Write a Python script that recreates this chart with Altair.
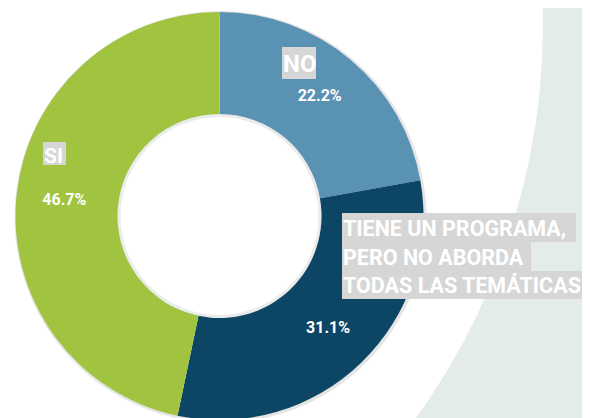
import altair as alt
import pandas as pd

# ---- data ----
categories = ["NO", "TIENE UN PROGRAMA, PERO NO ABORDA TODAS LAS TEMÁTICAS", "SI"]
values = [22.2, 31.1, 46.7]
colors = ["#5A92B3", "#0D4664", "#A0C440"]
order = [1, 2, 3]
pct_labels = [f"{v:.1f}%" for v in values]

df = pd.DataFrame({"cat": categories, "value": values, "ord": order, "pct": pct_labels})

W, H = 574, 410
CX, CY = 211.5, 208
R_OUT, R_IN = 204, 102

color_scale = alt.Scale(domain=categories, range=colors)

one = pd.DataFrame({"a": [0]})

# background decoration: white disk over light gray page
bg_disk = alt.Chart(one).mark_arc(color="white", radius=675).encode(
    theta=alt.value(0), theta2=alt.value(6.2832),
    x=alt.value(-140), y=alt.value(16)
)

base = alt.Chart(df).encode(
    theta=alt.Theta("value:Q", stack=True),
    order=alt.Order("ord:Q"),
    x=alt.value(CX), y=alt.value(CY),
)

shadow = alt.Chart(one).mark_arc(color="#000000", opacity=0.10, radius=206, radius2=R_OUT - 2).encode(
    theta=alt.value(0), theta2=alt.value(6.2832), x=alt.value(CX + 1), y=alt.value(CY + 1)
)

donut = base.mark_arc(radius=R_OUT, radius2=R_IN).encode(
    color=alt.Color("cat:N", scale=color_scale, legend=None)
)

inner_shadow = alt.Chart(one).mark_arc(color="#000000", opacity=0.08, radius=R_IN, radius2=R_IN - 3).encode(
    theta=alt.value(0), theta2=alt.value(6.2832), x=alt.value(CX), y=alt.value(CY)
)

pct = base.mark_text(radius=156, font="Roboto", fontWeight="bold", fontSize=16, color="white",
                     align="center", baseline="middle").encode(text="pct:N")

BOX = "#D6D6D6"
FONT = "Roboto"


def box(x1, x2, y1, y2):
    return alt.Chart(one).mark_rect(color=BOX).encode(
        x=alt.value(x1 - 8), x2=alt.value(x2 - 8), y=alt.value(y1 - 8), y2=alt.value(y2 - 8)
    )


def label(txt, x, y, size):
    return alt.Chart(one).mark_text(font=FONT, fontWeight="bold", fontSize=size, color="white",
                                    align="left", baseline="alphabetic").encode(
        x=alt.value(x - 8), y=alt.value(y - 8), text=alt.value(txt)
    )


tiene_lines = ["TIENE UN PROGRAMA,", "PERO NO ABORDA", "TODAS LAS TEMÁTICAS"]

layers = [bg_disk, shadow, donut, inner_shadow, pct,
          box(282, 316, 47, 79), label(categories[0], 283, 72, 24),
          box(43, 66, 142, 165), label(categories[2], 44, 163, 21),
          box(342, 576, 213, 242), box(342, 531, 242, 271), box(342, 582, 271, 299),
          label(tiene_lines[0], 343, 236, 21.5),
          label(tiene_lines[1], 343, 265, 21.5),
          label(tiene_lines[2], 343, 293, 21.5)]

chart = alt.layer(*layers).properties(
    width=W, height=H,
    autosize=alt.AutoSizeParams(type="none"),
    padding=0,
    background="#E4EBEB",
).configure_view(stroke=None)

chart.save("out.html", embed_options={"renderer": "svg", "actions": False})
